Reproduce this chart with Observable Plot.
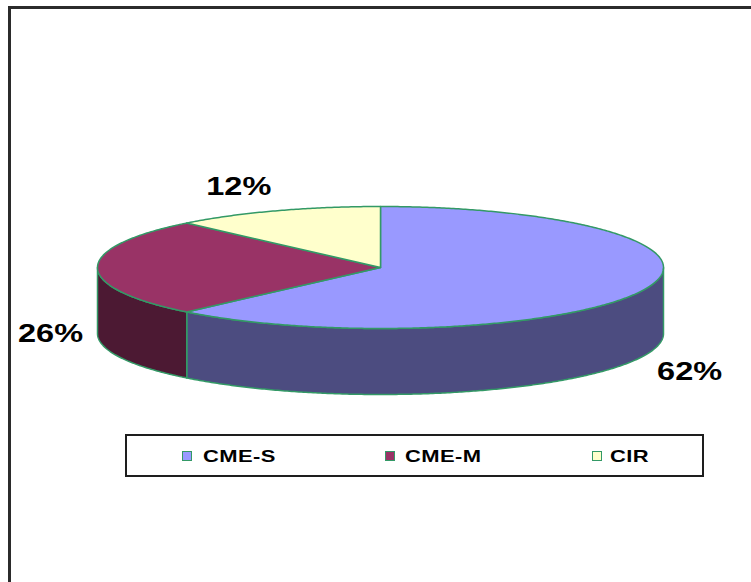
<!DOCTYPE html>
<html><head><meta charset="utf-8">
<script src="https://cdn.jsdelivr.net/npm/d3@7"></script>
<script src="https://cdn.jsdelivr.net/npm/@observablehq/plot@0.6"></script>
<style>
html,body{margin:0;padding:0;background:#fff;}
body{width:751px;height:582px;overflow:hidden;position:relative;font-family:"Liberation Sans",Arial,sans-serif;}
#frame{position:absolute;left:8px;top:6px;width:800px;height:700px;border:3px solid #2b2b2b;box-sizing:border-box;}
#chart{position:absolute;left:0;top:0;}
#legend{position:absolute;left:125px;top:434px;width:579px;height:43px;border:2px solid #1e1e1e;box-sizing:border-box;background:#fff;}
.sw{position:absolute;width:10px;height:10px;border:1.5px solid #339966;box-sizing:border-box;}
.lt{position:absolute;font-weight:bold;font-size:16.5px;line-height:16px;color:#000;transform:scaleX(1.33);transform-origin:left center;white-space:nowrap;letter-spacing:0.3px;}
</style></head>
<body>
<div id="frame"></div>
<div id="chart"></div>
<div id="legend"></div>
<script>
const categories = ["CME-S", "CME-M", "CIR"];
const shares = [62, 26, 12];
const shareLabels = ["62%", "26%", "12%"];
const topColors = ["#9999FF", "#993366", "#FFFFCC"];
const sideColors = ["#4C4C80", "#4C1933", "#80805F"];

const W = 751, H = 582;
const CX = 380, CY = 267, RX = 283, RY = 61, DEPTH = 66;
const depthU = DEPTH / RY;
const total = d3.sum(shares);

let acc = 0;
const slices = categories.map((c, i) => {
  const a0 = acc / total * 2 * Math.PI;
  acc += shares[i];
  const a1 = acc / total * 2 * Math.PI;
  return {c, i, a0, a1, label: shareLabels[i]};
});

const STEP = Math.PI / 360;
function arc(a0, a1, off) {
  const n = Math.max(2, Math.ceil((a1 - a0) / STEP));
  const pts = [];
  for (let k = 0; k <= n; k++) {
    const t = a0 + (a1 - a0) * k / n;
    pts.push({x: Math.sin(t), y: -Math.cos(t) + off});
  }
  return pts;
}

const walls = [];
slices.forEach(s => {
  const lo = Math.max(s.a0, Math.PI / 2), hi = Math.min(s.a1, 3 * Math.PI / 2);
  if (hi > lo) {
    const top = arc(lo, hi, 0);
    const bot = arc(lo, hi, depthU).reverse();
    walls.push({s, pts: top.concat(bot)});
  }
});
const tops = slices.map(s => ({s, pts: [{x: 0, y: 0}, ...arc(s.a0, s.a1, 0)]}));

const labelPts = slices.map(s => {
  const m = (s.a0 + s.a1) / 2;
  let sn = Math.sin(m), cs = Math.cos(m);
  if (Math.abs(sn) < 1e-9) sn = 0;
  if (Math.abs(cs) < 1e-9) cs = 0;
  const D = 15, HW = 32, HH = 10;
  return {
    label: s.label,
    x: sn + (D * sn + Math.sign(sn) * HW) / RX,
    y: -cs + (cs <= 0 ? depthU : 0) + (-D * cs - Math.sign(cs) * HH) / RY
  };
});

const EDGE = "#339966";
const marks = [
  ...walls.map(w => Plot.line(w.pts, {x: "x", y: "y", curve: "linear-closed", fill: sideColors[w.s.i], stroke: EDGE, strokeWidth: 1.5, strokeLinejoin: "round"})),
  ...tops.map(t => Plot.line(t.pts, {x: "x", y: "y", curve: "linear-closed", fill: topColors[t.s.i], stroke: EDGE, strokeWidth: 1.5, strokeLinejoin: "round"})),
  Plot.text(labelPts, {x: "x", y: "y", text: "label", fontSize: 26, fontWeight: "bold", fill: "#000", textAnchor: "middle", lineAnchor: "middle"})
];

const chart = Plot.plot({
  width: W, height: H, margin: 0,
  x: {domain: [-1, 1], range: [CX - RX, CX + RX], axis: null},
  y: {domain: [-1, 1], range: [CY - RY, CY + RY], axis: null},
  style: {background: "transparent", fontFamily: "'Liberation Sans', Arial, sans-serif"},
  marks
});
document.getElementById("chart").append(chart);
chart.querySelectorAll('g[aria-label="text"] text').forEach(t => {
  const w = t.getComputedTextLength();
  t.setAttribute("textLength", w * 1.25);
  t.setAttribute("lengthAdjust", "spacingAndGlyphs");
});

// legend (box-relative positions)
const legend = document.getElementById("legend");
const swatchX = [55, 258, 465];
const textX = [76, 278, 483];
categories.forEach((c, i) => {
  const sw = document.createElement("div");
  sw.className = "sw";
  sw.style.left = swatchX[i] + "px";
  sw.style.top = "15px";
  sw.style.background = topColors[i];
  legend.append(sw);
  const tx = document.createElement("div");
  tx.className = "lt";
  tx.style.left = textX[i] + "px";
  tx.style.top = "12px";
  tx.textContent = c;
  legend.append(tx);
});
</script>
</body></html>
